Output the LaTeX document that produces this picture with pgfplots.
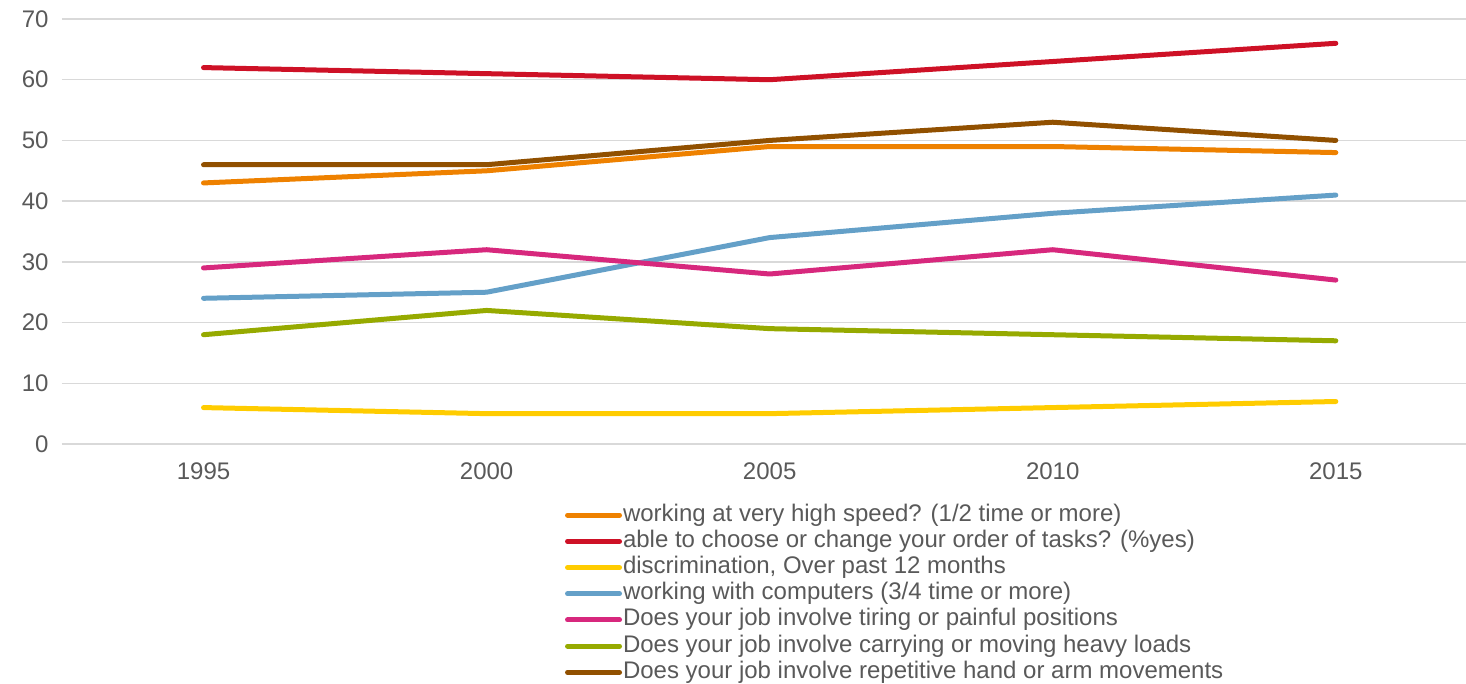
\documentclass[border=0pt]{standalone}
\usepackage{fontspec}
\setmainfont{Liberation Sans}
\usepackage{pgfplots}
\pgfplotsset{compat=1.18}

\definecolor{cOrange}{HTML}{EE8100}
\definecolor{cRed}{HTML}{CE1126}
\definecolor{cYellow}{HTML}{FFCC00}
\definecolor{cBlue}{HTML}{64A0C8}
\definecolor{cPink}{HTML}{D7287D}
\definecolor{cGreen}{HTML}{96AA00}
\definecolor{cBrown}{HTML}{915000}
\definecolor{cText}{HTML}{595959}
\definecolor{cGrid}{HTML}{D9D9D9}

\begin{document}
\begin{tikzpicture}
  % fix the page to the reference frame (plot area lower left at origin)
  \path[use as bounding box] (-62pt,-239pt) rectangle (1404pt,444pt);
  \begin{axis}[
      scale only axis,
      width=1404pt, height=425pt,
      xmin=1992.5, xmax=2017.3,
      ymin=0, ymax=70,
      xtick={1995,2000,2005,2010,2015},
      xticklabels={1995,2000,2005,2010,2015},
      ytick={0,10,...,70},
      axis line style={draw=none},
      major tick length=0pt,
      ymajorgrids,
      grid style={cGrid, line width=1.5pt},
      /pgf/number format/assume math mode=true,
      ticklabel style={font=\fontsize{24}{28}\selectfont, text=cText},
      yticklabel style={xshift=-10pt},
      xticklabel style={yshift=-15pt},
      every axis plot/.append style={line width=5pt, line cap=round, line join=round, mark=none},
      legend cell align=left,
      legend style={
        at={(0.356,-0.134)}, anchor=north west,
        draw=none, fill=none,
        font=\fontsize{24}{28}\selectfont, text=cText,
        nodes={inner sep=1pt, text height=17pt, text depth=5pt},
        row sep=2.2pt,
      },
      legend image code/.code={\draw (0pt,0pt) -- (52pt,0pt);},
    ]
    \addplot[cOrange] coordinates {(1995,43) (2000,45) (2005,49) (2010,49) (2015,48)};
    \addlegendentry{working at very high speed? (1/2 time or more)}
    \addplot[cRed] coordinates {(1995,62) (2000,61) (2005,60) (2010,63) (2015,66)};
    \addlegendentry{able to choose or change your order of tasks? (\%yes)}
    \addplot[cYellow] coordinates {(1995,6) (2000,5) (2005,5) (2010,6) (2015,7)};
    \addlegendentry{discrimination, Over past 12 months}
    \addplot[cBlue] coordinates {(1995,24) (2000,25) (2005,34) (2010,38) (2015,41)};
    \addlegendentry{working with computers (3/4 time or more)}
    \addplot[cPink] coordinates {(1995,29) (2000,32) (2005,28) (2010,32) (2015,27)};
    \addlegendentry{Does your job involve tiring or painful positions}
    \addplot[cGreen] coordinates {(1995,18) (2000,22) (2005,19) (2010,18) (2015,17)};
    \addlegendentry{Does your job involve carrying or moving heavy loads}
    \addplot[cBrown] coordinates {(1995,46) (2000,46) (2005,50) (2010,53) (2015,50)};
    \addlegendentry{Does your job involve repetitive hand or arm movements}
  \end{axis}
\end{tikzpicture}
\end{document}
